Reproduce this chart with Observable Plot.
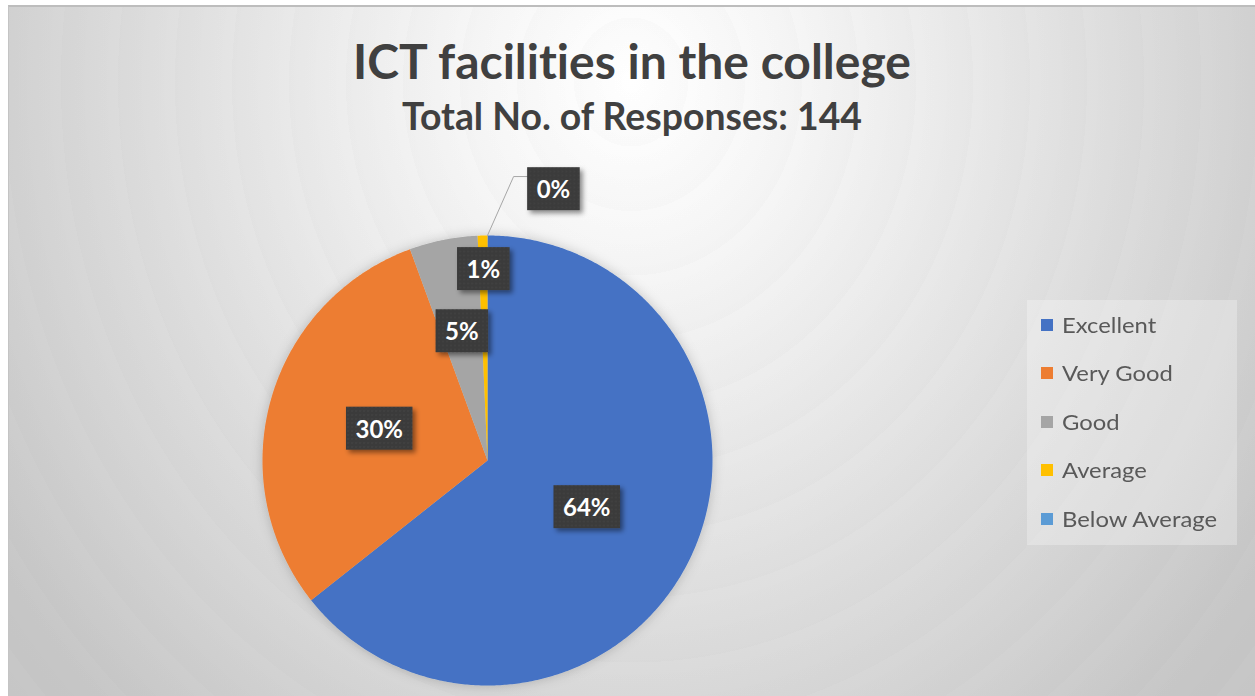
<!DOCTYPE html>
<html>
<head>
<meta charset="utf-8">
<script src="https://cdn.jsdelivr.net/npm/d3@7"></script>
<script src="https://cdn.jsdelivr.net/npm/@observablehq/plot@0.6"></script>
<style>
  html, body { margin: 0; padding: 0; background: #ffffff; width: 1255px; height: 696px; overflow: hidden; }
  #frame {
    position: absolute; left: 8px; top: 5px; width: 1247px; height: 691px;
    border-top: 2px solid #bdbdbd; border-left: 1px solid #c4c4c4; box-sizing: border-box;
    background:
      repeating-radial-gradient(ellipse 760px 860px at 622px 75px, rgba(0,0,0,0) 0%, rgba(0,0,0,0.011) 7.5%),
      radial-gradient(ellipse 760px 860px at 622px 75px, #ffffff 0%, #f7f7f7 20%, #ececec 40%, #e0e0e0 60%, #d4d4d4 80%, #c7c7c7 100%);
  }
  .ttl { position: absolute; left: 632px; white-space: nowrap; font-family: Lato, "Open Sans", sans-serif; font-weight: bold; color: #404040; line-height: 1; transform-origin: 0 0; font-variant-ligatures: none; font-feature-settings: "liga" 0, "dlig" 0; }
  #chart { position: absolute; left: 0; top: 0; }
  #legend { position: absolute; left: 1027px; top: 300px; width: 210px; height: 245px; background: rgba(255,255,255,0.28); }
  .item { position: absolute; left: 14px; height: 24px; white-space: nowrap; font-family: Lato, "Open Sans", sans-serif; font-size: 21px; color: #595959; font-variant-ligatures: none; }
  .sw { position: absolute; left: 0; top: 6px; width: 12px; height: 12px; }
  .lt { position: absolute; left: 21px; top: 0; line-height: 24px; transform-origin: 0 50%; }
</style>
</head>
<body>
<div id="frame"></div>
<div id="title" class="ttl"></div>
<div id="subtitle" class="ttl"></div>
<div id="chart"></div>
<div id="legend"></div>
<script>
// ---- data ----
const titleText = "ICT facilities in the college";
const subtitleText = "Total No. of Responses: 144";
const categories = ["Excellent", "Very Good", "Good", "Average", "Below Average"];
const responses = [92, 43, 7, 1, 0];
const colors = ["#4472C4", "#ED7D31", "#A5A5A5", "#FFC000", "#5B9BD5"];

// label placement (fraction of radius from centre, along slice mid-angle)
const labelRadius = [0.49, 0.5, 0.58, 0.845, 1.2];
const labelShiftX = [0, 0, 0, 0, 0.293];

// ---- titles ----
function fitText(el, text, size, top, targetWidth) {
  el.textContent = text;
  el.style.fontSize = size + "px";
  el.style.top = top + "px";
  const w = el.getBoundingClientRect().width;
  const k = targetWidth / w;
  el.style.transform = `translateX(${-targetWidth / 2}px) scaleX(${k})`;
}
fitText(document.getElementById("title"), titleText, 47, 38, 558);
fitText(document.getElementById("subtitle"), subtitleText, 38, 96, 460);

// ---- pie geometry from data ----
const total = d3.sum(responses);
const arcs = d3.pie().sort(null).startAngle(0).endAngle(2 * Math.PI)(responses);
const slices = arcs.filter(a => a.value > 0).map(a => {
  const i = a.index;
  const n = Math.max(2, Math.ceil((a.endAngle - a.startAngle) / (Math.PI / 360)));
  const ring = [[0, 0]];
  for (let k = 0; k <= n; k++) {
    const t = a.startAngle + (a.endAngle - a.startAngle) * k / n;
    ring.push([Math.sin(t), Math.cos(t)]);
  }
  ring.push([0, 0]);
  return {type: "Feature", properties: {category: categories[i]}, geometry: {type: "Polygon", coordinates: [ring.reverse()]}};
});

const labels = arcs.map(a => {
  const i = a.index;
  const mid = (a.startAngle + a.endAngle) / 2;
  return {
    x: Math.sin(mid) * labelRadius[i] + labelShiftX[i],
    y: Math.cos(mid) * labelRadius[i],
    label: Math.round(responses[i] / total * 100) + "%",
    mid, i
  };
});

// leader line for the outside label (Below Average)
const out = labels[4];
const leader = [
  {x: Math.sin(out.mid), y: Math.cos(out.mid)},
  {x: out.x - 0.177, y: out.y + 0.062},
  {x: out.x - 0.115, y: out.y + 0.062}
];

const plot = Plot.plot({
  width: 1255,
  height: 696,
  marginLeft: 262,
  marginRight: 543,
  marginTop: 235,
  marginBottom: 11,
  projection: {type: "reflect-y", clip: false, domain: {type: "MultiPoint", coordinates: [[-1, -1], [1, 1]]}},
  color: {domain: categories, range: colors},
  style: {background: "transparent", overflow: "visible"},
  marks: [
    Plot.geo(slices, {fill: d => d.properties.category, stroke: "none"}),
    Plot.line(leader, {x: "x", y: "y", stroke: "#a6a6a6", strokeWidth: 1, clip: false}),
    Plot.text(labels, {x: "x", y: "y", text: "label", fill: "white", fontSize: 24, fontWeight: "bold", fontFamily: "Lato, 'Open Sans', sans-serif", clip: false})
  ]
});
document.getElementById("chart").appendChild(plot);

// ---- styling: pie halo, dark label boxes ----
const svg = d3.select(plot);
const defs = svg.insert("defs", ":first-child");
const halo = defs.append("filter").attr("id", "halo").attr("x", "-20%").attr("y", "-20%").attr("width", "140%").attr("height", "140%");
halo.append("feDropShadow").attr("dx", 0).attr("dy", 0).attr("stdDeviation", 6).attr("flood-color", "#000").attr("flood-opacity", 0.2);
const sh = defs.append("filter").attr("id", "boxshadow").attr("x", "-30%").attr("y", "-30%").attr("width", "170%").attr("height", "170%");
sh.append("feDropShadow").attr("dx", 3).attr("dy", 3).attr("stdDeviation", 2.5).attr("flood-color", "#000").attr("flood-opacity", 0.45);
const pat = defs.append("pattern").attr("id", "dots").attr("width", 4).attr("height", 4).attr("patternUnits", "userSpaceOnUse");
pat.append("rect").attr("width", 4).attr("height", 4).attr("fill", "#3a3a3a");
pat.append("circle").attr("cx", 1).attr("cy", 1).attr("r", 0.7).attr("fill", "#4e4e4e");

svg.select('g[aria-label="geo"]').attr("filter", "url(#halo)");

svg.selectAll('g[aria-label="text"] text').each(function () {
  const b = this.getBBox();
  const w = b.width + 19, h = 43;
  const cx = b.x + b.width / 2, cy = b.y + b.height / 2;
  const r = d3.select(this.parentNode).insert("rect", () => this)
    .attr("x", cx - w / 2).attr("y", cy - h / 2).attr("width", w).attr("height", h)
    .attr("fill", "url(#dots)").attr("filter", "url(#boxshadow)");
  const tr = this.getAttribute("transform");
  if (tr) r.attr("transform", tr);
});

// ---- legend ----
const legend = d3.select("#legend");
const rowY = 24.5;
const step = 48.5;
categories.forEach((c, i) => {
  const item = legend.append("div").attr("class", "item").style("top", (rowY + i * step - 12) + "px");
  item.append("div").attr("class", "sw").style("background", colors[i]);
  item.append("div").attr("class", "lt").text(c);
});
const widest = legend.selectAll(".lt").nodes()[4];
const kx = 155 / widest.getBoundingClientRect().width;
legend.selectAll(".lt").style("transform", `scaleX(${kx})`);
</script>
</body>
</html>
